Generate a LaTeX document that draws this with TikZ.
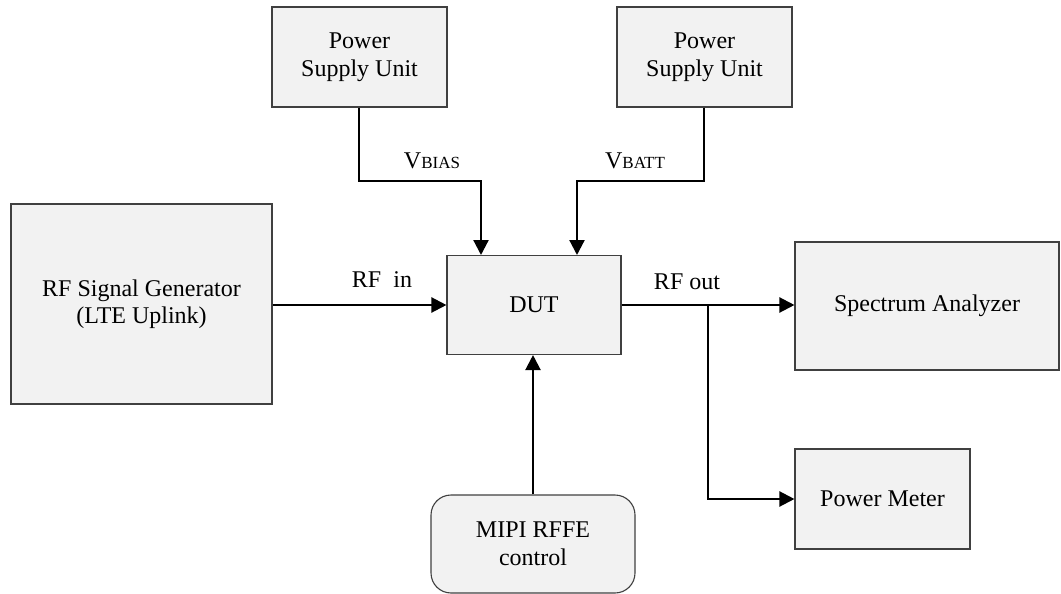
\documentclass[tikz,border=0pt]{standalone}
\usepackage{fontspec}
\setmainfont{Liberation Serif}
\usetikzlibrary{arrows.meta}
\definecolor{boxfill}{HTML}{F2F2F2}
\definecolor{boxline}{HTML}{404040}
\newcommand{\sub}[1]{{\fontsize{17}{20}\selectfont #1}}
\tikzset{
  blk/.style={draw=boxline, fill=boxfill, line width=1.1pt, align=center,
    font=\fontsize{24}{27.5}\selectfont, inner sep=0pt},
  conn/.style={line width=2.2pt, -{Triangle[length=15pt,width=15pt]}},
  lbl/.style={font=\fontsize{24}{27.5}\selectfont, inner sep=0pt}
}
\begin{document}
\begin{tikzpicture}[x=1pt,y=-1pt]
\useasboundingbox (0,0) rectangle (1061,594);
\node[blk, minimum width=175pt, minimum height=100pt] (psu1) at (359.5,57) {Power\\Supply Unit};
\node[blk, minimum width=175pt, minimum height=100pt] (psu2) at (704.5,57) {Power\\Supply Unit};
\node[blk, minimum width=261pt, minimum height=200pt] (rfsg) at (141.5,304) {RF Signal Generator\\(LTE Uplink)};
\node[blk, minimum width=174pt, minimum height=99pt] (dut) at (534,305) {DUT};
\node[blk, minimum width=264pt, minimum height=128pt] (sa) at (927,306) {Spectrum Analyzer};
\node[blk, minimum width=175pt, minimum height=100pt] (pm) at (882.5,499) {Power Meter};
\node[blk, minimum width=204pt, minimum height=98pt, rounded corners=20pt] (mipi) at (533,544) {MIPI RFFE\\control};

\coordinate (b1) at (359,181);
\coordinate (b2) at (704,181);
\coordinate (t1) at (481,255);
\coordinate (t2) at (577,255);
\coordinate (br) at (708,305);

\draw[conn] (psu1.south -| b1) -- (b1) -| (t1);
\draw[conn] (psu2.south -| b2) -- (b2) -| (t2);
\draw[conn] (rfsg.east |- dut.west) -- (dut.west);
\draw[conn] (dut.east) -- (dut.east -| sa.west);
\draw[conn] (br) |- (pm.west);
\draw[conn] (mipi.north) -- (mipi.north |- dut.south);

\node[lbl] (lb1) at (432,161) {V\sub{BIAS}};
\node[lbl] (lb2) at (635,161) {V\sub{BATT}};
\node[lbl] (lb3) at (382,280) {RF~~in};
\node[lbl] (lb4) at (687,282) {RF out};
\end{tikzpicture}
\end{document}
